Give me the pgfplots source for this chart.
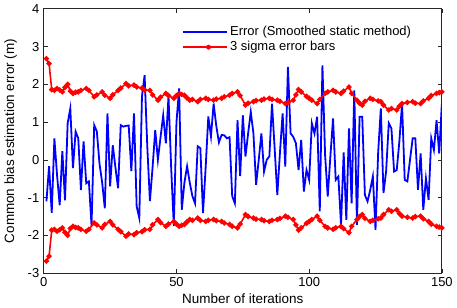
\documentclass[border=0pt]{standalone}
\usepackage{pgfplots}
\pgfplotsset{compat=1.18}
\usepackage{pgfplotstable}
\usepackage{fontspec}
\setmainfont{Liberation Sans}
\definecolor{mblue}{rgb}{0,0,1}
\definecolor{mred}{rgb}{1,0,0}
\definecolor{axgray}{rgb}{0.15,0.15,0.15}

\pgfplotstableread{
i e
1 -1.1
2 -0.17
3 -1.4
4 0.57
5 -0.4
6 -1.2
7 0.23
8 -1.07
9 0.97
10 1.36
11 -0.22
12 0.75
13 0.57
14 -0.8
15 0.49
16 -0.62
17 -0.57
18 -1.75
19 0.92
20 0.75
21 -0.1
22 -0.6
23 -1.28
24 1.23
25 -0.7
26 0.39
27 -0.2
28 -0.75
29 0.92
30 0.88
31 0.9
32 0.91
33 -0.3
34 1.23
35 -1.23
36 -1.54
37 1.68
38 2.24
39 0.36
40 -1.09
41 -0.2
42 0.79
43 0.0
44 0.6
45 1.18
46 0.44
47 1.68
48 -0.2
49 -1.75
50 1.0
51 1.89
52 -1.32
53 -0.6
54 -0.17
55 -0.6
56 -0.96
57 -1.15
58 0.36
59 0.31
60 -1.41
61 -0.2
62 1.15
63 0.62
64 1.49
65 0.9
66 0.46
67 0.66
68 0.65
69 0.57
70 0.6
71 -0.96
72 -1.15
73 1.05
74 -0.43
75 1.18
76 0.09
77 0.7
78 1.27
79 0.7
80 -0.66
81 0.0
82 0.7
83 -0.31
84 0.0
85 0.09
86 1.49
87 0.3
88 -0.93
89 0.2
90 1.23
91 -0.18
92 2.46
93 0.7
94 0.61
95 0.44
96 -0.27
97 0.53
98 -0.84
99 -0.27
100 -0.53
101 0.97
102 0.7
103 1.14
104 -1.36
105 2.5
106 0.13
107 -0.97
108 0.1
109 1.1
110 -0.53
111 -0.44
112 -1.72
113 0.2
114 -1.59
115 0.83
116 -1.15
117 1.84
118 -1.72
119 1.14
120 1.14
121 -0.93
122 -1.1
123 -0.8
124 -0.44
125 -1.85
126 0.2
127 1.36
128 -0.88
129 -0.3
130 0.97
131 0.83
132 -0.31
133 -0.27
134 0.5
135 1.49
136 -0.53
137 -0.57
138 0.0
139 0.57
140 0.57
141 -0.79
142 0.17
143 -1.32
144 -0.49
145 -1.06
146 0.57
147 0.26
148 1.05
149 0.17
150 1.49
}\errdata

\pgfplotstableread{
i up lo
1 2.68 -2.68
2 2.55 -2.55
3 1.86 -1.86
4 1.84 -1.84
5 1.89 -1.89
6 1.85 -1.85
7 1.80 -1.80
8 1.92 -1.92
9 2.00 -2.00
10 1.82 -1.82
11 1.76 -1.76
12 1.79 -1.79
13 1.80 -1.80
14 1.84 -1.84
16 1.89 -1.89
17 1.84 -1.84
19 1.67 -1.67
20 1.72 -1.72
22 1.80 -1.80
23 1.71 -1.71
25 1.63 -1.63
26 1.72 -1.72
28 1.84 -1.84
29 1.90 -1.90
31 2.02 -2.02
32 1.96 -1.96
34 1.98 -1.98
35 1.93 -1.93
37 1.90 -1.90
38 1.85 -1.85
40 1.84 -1.84
41 1.72 -1.72
43 1.58 -1.58
44 1.66 -1.66
46 1.76 -1.76
47 1.70 -1.70
49 1.63 -1.63
50 1.70 -1.70
51 1.76 -1.76
52 1.73 -1.73
53 1.71 -1.71
54 1.64 -1.64
55 1.58 -1.58
56 1.60 -1.60
58 1.54 -1.54
59 1.60 -1.60
61 1.63 -1.63
62 1.60 -1.60
64 1.58 -1.58
65 1.61 -1.61
67 1.63 -1.63
68 1.67 -1.67
70 1.71 -1.71
71 1.76 -1.76
73 1.80 -1.80
74 1.70 -1.70
76 1.45 -1.45
77 1.50 -1.50
79 1.54 -1.54
80 1.57 -1.57
82 1.58 -1.58
83 1.61 -1.61
85 1.63 -1.63
86 1.60 -1.60
88 1.58 -1.58
89 1.55 -1.55
91 1.49 -1.49
92 1.52 -1.52
94 1.58 -1.58
95 1.72 -1.72
96 1.86 -1.86
97 1.80 -1.80
99 1.68 -1.68
100 1.63 -1.63
101 1.58 -1.58
103 1.49 -1.49
104 1.60 -1.60
106 1.76 -1.76
107 1.80 -1.80
109 1.84 -1.84
110 1.80 -1.80
112 1.76 -1.76
113 1.82 -1.82
115 1.93 -1.93
116 1.76 -1.76
118 1.58 -1.58
119 1.50 -1.50
120 1.45 -1.45
121 1.55 -1.55
123 1.63 -1.63
124 1.60 -1.60
126 1.56 -1.56
127 1.54 -1.54
128 1.45 -1.45
130 1.32 -1.32
131 1.36 -1.36
133 1.32 -1.32
134 1.42 -1.42
135 1.49 -1.49
137 1.52 -1.52
139 1.54 -1.54
140 1.50 -1.50
142 1.49 -1.49
143 1.56 -1.56
145 1.63 -1.63
146 1.70 -1.70
148 1.76 -1.76
149 1.78 -1.78
150 1.80 -1.80
}\bounddata

\begin{document}
\fontsize{13}{15}\selectfont
\begin{tikzpicture}
\begin{axis}[
  scale only axis,
  width=399pt, height=265pt,
  xmin=0, xmax=150, ymin=-3, ymax=4,
  xtick={0,50,100,150},
  ytick={-3,-2,-1,0,1,2,3,4},
  tick align=inside,
  tick pos=both,
  major tick length=4pt,
  axis line style={axgray, line width=0.8pt},
  every tick/.style={axgray, line width=0.6pt},
  tick label style={font=\fontsize{13}{15}\selectfont, text=black},
  label style={font=\fontsize{13.5}{16}\selectfont},
  /pgf/number format/assume math mode=true,
  xlabel={Number of iterations},
  ylabel={Common bias estimation error (m)},
  xlabel style={yshift=2pt},
  ylabel style={yshift=2pt},
  legend style={draw=none, fill=none, at={(0.34,0.95)}, anchor=north west,
     font=\fontsize{13}{15}\selectfont, row sep=0pt},
  legend cell align=left,
]
\addlegendimage{legend image code/.code={\draw[mblue, line width=1.8pt] (0cm,0cm) -- (1.55cm,0cm);}}
\addlegendentry{Error (Smoothed static method)}
\addlegendimage{legend image code/.code={\draw[draw=mred, line width=1.6pt] (0cm,0cm) -- (1.55cm,0cm) node[pos=0.5, circle, fill=mred, draw=none, inner sep=0pt, minimum size=5pt] {};}}
\addlegendentry{3 sigma error bars}
\addplot[mblue, line width=1.8pt, no markers, forget plot] table[x=i, y=e] {\errdata};
\addplot[mred, line width=1.6pt, mark=*, mark size=1.8pt, forget plot] table[x=i, y=up] {\bounddata};
\addplot[mred, line width=1.6pt, mark=*, mark size=1.8pt, forget plot] table[x=i, y=lo] {\bounddata};
\end{axis}
\end{tikzpicture}
\end{document}
